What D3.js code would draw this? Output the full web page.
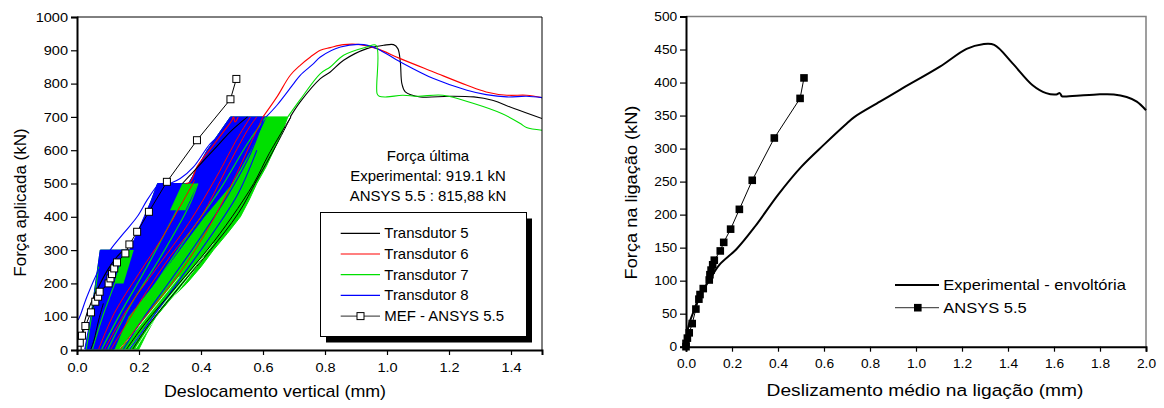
<!DOCTYPE html>
<html>
<head>
<meta charset="utf-8">
<script src="https://cdn.jsdelivr.net/npm/d3@7"></script>
<style>
  body { margin: 0; background: #fff; }
  text { font-family: "Liberation Sans", Arial, sans-serif; fill: #000; }
</style>
</head>
<body>
<script>
// ---- left chart data (mm, kN) ----
var mefPts = [[0.002,2],[0.009,22],[0.016,43],[0.027,72],[0.045,113],[0.059,145],[0.068,160],[0.073,175],
  [0.102,200],[0.108,215],[0.113,228],[0.12,245],[0.129,263],[0.156,290],[0.169,317],[0.194,355],
  [0.232,415],[0.29,505],[0.387,630],[0.495,753],[0.514,814]];

// outline of the dense cyclic loops (all transducers) and of the blue (T8) part
var loopsOutline = [[0.03,3],[0.045,100],[0.06,200],[0.075,300],[0.18,300],[0.24,450],[0.26,500],[0.36,500],
  [0.42,600],[0.495,700],[0.68,700],[0.66,650],[0.635,600],[0.61,550],[0.58,500],[0.555,450],[0.527,400],
  [0.485,350],[0.44,300],[0.4,250],[0.354,200],[0.3,150],[0.255,100],[0.225,50],[0.2,3]];
var t8Outline = [[0.025,3],[0.045,100],[0.06,200],[0.075,300],[0.17,300],[0.24,450],[0.26,500],[0.34,500],
  [0.36,500],[0.42,600],[0.495,700],[0.61,700],[0.56,600],[0.5,500],[0.41,400],[0.33,300],[0.25,200],
  [0.165,100],[0.12,3]];
var t7Block300 = [[0.15,300],[0.183,300],[0.15,200],[0.12,200]];
var t7Block500 = [[0.34,500],[0.39,500],[0.35,420],[0.30,420]];

// individual loops
var t7Loops = [
  [[0.03,3],[0.04,60],[0.055,150],[0.07,250]],
  [[0.05,3],[0.09,120],[0.15,260],[0.18,300]],
  [[0.1,3],[0.17,130],[0.27,280],[0.36,430],[0.39,500]],
  [[0.13,3],[0.22,150],[0.34,320],[0.46,480],[0.55,620],[0.61,700]],
  [[0.08,3],[0.14,110],[0.22,240],[0.3,380],[0.35,470]]
];
var t8Loops = [
  [[0.15,3],[0.21,90],[0.31,220],[0.4,340],[0.49,470],[0.56,590],[0.6,690]],
  [[0.17,3],[0.23,80],[0.33,210],[0.43,340],[0.52,470],[0.58,600]]
];
var t6Loops = [
  [[0.07,3],[0.12,110],[0.2,230],[0.27,330],[0.35,460],[0.38,510]],
  [[0.09,3],[0.16,120],[0.26,250],[0.36,380],[0.45,520],[0.52,640],[0.56,700]],
  [[0.11,3],[0.2,140],[0.3,280],[0.4,400],[0.48,540],[0.55,660],[0.58,700]],
  [[0.14,3],[0.22,100],[0.33,230],[0.42,360],[0.5,500],[0.56,620],[0.6,700]]
];
var t5Loops = [
  [[0.045,3],[0.055,30],[0.07,90],[0.085,140]],
  [[0.16,3],[0.22,80],[0.32,190],[0.42,300],[0.5,400],[0.57,500],[0.62,590],[0.69,700]],
  [[0.18,3],[0.235,80],[0.34,200],[0.43,300],[0.52,410],[0.58,510],[0.64,610],[0.69,700]]
];
// white gaps between the lower loops of transducer 7
var t7Gaps = [
  [[0.14,5],[0.19,60],[0.26,140],[0.33,220]],
  [[0.17,5],[0.215,60],[0.29,150],[0.37,240],[0.44,320]],
  [[0.19,5],[0.235,70],[0.32,170],[0.41,280]]
];
var t8Thin = [
  [[0.004,90],[0.011,105],[0.032,160],[0.075,250],[0.107,300],[0.15,350],[0.194,400],[0.226,450],[0.263,500]],
  [[0.3,500],[0.333,515],[0.376,550],[0.43,620],[0.473,655],[0.5,700]]
];
var t6Thin = [[0.35,500],[0.366,505],[0.387,550],[0.44,615],[0.468,650],[0.5,690],[0.505,700],[0.51,685],[0.52,700]];
var t5Thin = [
  [[0.016,50],[0.032,110],[0.054,160],[0.075,200],[0.102,245],[0.129,280],[0.15,300]],
  [[0.34,500],[0.37,530],[0.44,600],[0.5,660],[0.55,700]]
];

// monotonic part up to failure
var t5Final = [[0.688,700],[0.72,745],[0.785,815],[0.817,835],[0.86,870],[0.935,905],[0.989,915],[1.021,917],
  [1.035,905],[1.043,865],[1.048,800],[1.059,775],[1.107,760],[1.2,762],[1.28,760],[1.34,750],[1.41,725],[1.5,695]];
var t6Final = [[0.6,700],[0.645,760],[0.688,825],[0.72,855],[0.753,880],[0.785,900],[0.817,908],[0.86,917],
  [0.914,917],[0.968,905],[1.043,875],[1.15,835],[1.258,795],[1.32,775],[1.387,765],[1.45,765],[1.5,758]];
var t7Final = [[0.68,700],[0.72,752],[0.785,830],[0.817,850],[0.86,885],[0.935,910],[0.965,915],[0.968,770],
  [0.975,762],[1.0,760],[1.05,765],[1.1,762],[1.18,765],[1.28,740],[1.37,710],[1.43,680],[1.45,668],[1.5,660]];
var t8Final = [[0.61,700],[0.645,735],[0.699,800],[0.72,825],[0.763,860],[0.785,880],[0.85,910],[0.925,917],
  [0.968,905],[1.043,865],[1.15,815],[1.258,780],[1.32,767],[1.387,760],[1.45,762],[1.5,758]];

var leftLegend = ["Transdutor 5", "Transdutor 6", "Transdutor 7", "Transdutor 8", "MEF - ANSYS 5.5"];
var leftColors = ["#000000", "#ff0000", "#00e000", "#0000ff", "#555555"];
var leftNote = ["Força última", "Experimental: 919.1 kN", "ANSYS 5.5 : 815,88 kN"];

// ---- right chart data ----
var envPts = [[0,0],[0.01,30],[0.036,56],[0.06,78],[0.097,98],[0.145,124],[0.22,148],[0.3,182],[0.4,230],
  [0.5,272],[0.6,306],[0.699,338],[0.733,348],[0.843,371],[0.93,389],[1.104,424],[1.22,451],
  [1.29,458],[1.34,457],[1.42,429],[1.507,396],[1.566,384],[1.61,382],[1.625,384],[1.635,379],[1.648,379],
  [1.786,382],[1.86,382],[1.916,378],[1.96,371],[2.0,358]];
var ansysPts = [[0,0],[0,5],[0.006,13],[0.014,21],[0.027,35],[0.043,57],[0.056,72],[0.061,79],[0.075,88],
  [0.101,101],[0.104,109],[0.109,116],[0.116,124],[0.123,131],[0.149,145],[0.164,158],[0.194,178],
  [0.232,208],[0.288,252],[0.384,316],[0.496,376],[0.513,407]];
var rightLegend = ["Experimental - envoltória", "ANSYS 5.5"];

var svg = d3.select("body").append("svg").attr("width", 1164).attr("height", 408);

function label(g, x, y, str, size, anchor, sx, rot) {
  var t = "translate(" + x + "," + y + ")" + (rot ? " rotate(" + rot + ")" : "") + " scale(" + sx + ",1)";
  return g.append("text").attr("transform", t).attr("font-size", size)
    .attr("text-anchor", anchor).text(str);
}

function axes(x, y, xMaj, xMin, yMaj, yMin, fs, sx, fmtX, fmtY) {
  var gx = svg.append("g").attr("transform", "translate(0," + y.range()[0] + ")");
  gx.call(d3.axisBottom(x).tickValues(xMin).tickSize(3).tickFormat(""));
  gx.call(d3.axisBottom(x).tickValues(xMaj).tickSize(5).tickPadding(7.5).tickFormat(fmtX));
  var gy = svg.append("g").attr("transform", "translate(" + x.range()[0] + ",0)");
  gy.call(d3.axisLeft(y).tickValues(yMin).tickSize(3).tickFormat(""));
  gy.call(d3.axisLeft(y).tickValues(yMaj).tickSize(6).tickPadding(2).tickFormat(fmtY));
  [gx, gy].forEach(function (g) {
    g.selectAll(".domain").attr("stroke", "#000").attr("stroke-width", 2);
    g.selectAll(".tick line").attr("stroke", "#000").attr("stroke-width", 1.2);
    g.selectAll("text").attr("font-size", fs).attr("fill", "#000")
      .attr("font-family", "'Liberation Sans', Arial, sans-serif")
      .attr("transform", "scale(" + sx + ",1)");
  });
}

function range(a, b, s) { var r = []; for (var v = a; v <= b + 1e-9; v += s) r.push(+v.toFixed(4)); return r; }

// ================= LEFT =================
var xL = d3.scaleLinear().domain([0, 1.5]).range([77, 542]);
var yL = d3.scaleLinear().domain([0, 1000]).range([350, 17]);

svg.append("defs").append("clipPath").attr("id", "clipL").append("rect")
  .attr("x", 77).attr("y", 17).attr("width", 465).attr("height", 333);

var gL = svg.append("g").attr("clip-path", "url(#clipL)");
var lineL = d3.line().x(function (d) { return xL(d[0]); }).y(function (d) { return yL(d[1]); })
  .curve(d3.curveCatmullRom.alpha(0.5));
var polyL = d3.line().x(function (d) { return xL(d[0]); }).y(function (d) { return yL(d[1]); })
  .curve(d3.curveLinearClosed);

gL.append("path").attr("d", polyL(loopsOutline)).attr("fill", leftColors[2]).attr("stroke", leftColors[2]);
gL.append("path").attr("d", polyL(t8Outline)).attr("fill", leftColors[3]).attr("stroke", leftColors[3]);
[t7Block300, t7Block500].forEach(function (p) {
  gL.append("path").attr("d", polyL(p)).attr("fill", leftColors[2]);
});
function drawSet(set, col, w) {
  set.forEach(function (s) {
    gL.append("path").attr("d", lineL(s)).attr("fill", "none").attr("stroke", col).attr("stroke-width", w);
  });
}
drawSet(t7Gaps, "#fff", 0.8);
drawSet(t7Loops, leftColors[2], 1.1);
drawSet(t8Loops, leftColors[3], 1.1);
drawSet(t6Loops, leftColors[1], 1.0);
drawSet(t5Loops, leftColors[0], 1.0);
drawSet(t8Thin, leftColors[3], 1.1);
drawSet([t6Thin], leftColors[1], 1.1);
drawSet(t5Thin, leftColors[0], 1.1);
drawSet([t5Final], leftColors[0], 1.1);
drawSet([t6Final], leftColors[1], 1.1);
drawSet([t8Final], leftColors[3], 1.1);
drawSet([t7Final], leftColors[2], 1.1);

gL.append("path").attr("d", d3.line().x(function (d) { return xL(d[0]); }).y(function (d) { return yL(d[1]); })(mefPts))
  .attr("fill", "none").attr("stroke", "#000").attr("stroke-width", 1);
gL.selectAll("rect.mef").data(mefPts).enter().append("rect").attr("class", "mef")
  .attr("x", function (d) { return xL(d[0]) - 3.5; }).attr("y", function (d) { return yL(d[1]) - 3.5; })
  .attr("width", 7).attr("height", 7).attr("fill", "#fff").attr("stroke", "#000").attr("stroke-width", 1);

// frame
svg.append("path").attr("d", "M77,17H542V350").attr("fill", "none").attr("stroke", "#000").attr("stroke-width", 1);
axes(xL, yL, range(0, 1.4, 0.2), range(0, 1.5, 0.05), range(0, 1000, 100), range(0, 1000, 20), 13, 1.12,
  d3.format(".1f"), d3.format("d"));

label(svg, 20, 202.5, "Força aplicada (kN)", 17, "middle", 1.0, -90).attr("dy", "0.35em");
label(svg, 275, 397, "Deslocamento vertical (mm)", 17, "middle", 1.05);

leftNote.forEach(function (s, i) { label(svg, 428, 161 + i * 20, s, 14, "middle", 1.07); });

// legend with shadow
var lg = svg.append("g");
lg.append("rect").attr("x", 326).attr("y", 218.5).attr("width", 206).attr("height", 124).attr("fill", "#000");
lg.append("rect").attr("x", 320.5).attr("y", 212.5).attr("width", 206).attr("height", 124)
  .attr("fill", "#fff").attr("stroke", "#000").attr("stroke-width", 1);
leftLegend.forEach(function (s, i) {
  var yy = 233.3 + i * 20.7;
  lg.append("line").attr("x1", 340.7).attr("x2", 380).attr("y1", yy).attr("y2", yy)
    .attr("stroke", leftColors[i]).attr("stroke-width", 1.2);
  if (i === 4) {
    lg.append("rect").attr("x", 357).attr("y", yy - 3.5).attr("width", 7).attr("height", 7)
      .attr("fill", "#fff").attr("stroke", "#000");
  }
  label(lg, 384.3, yy + 5, s, 14, "start", 1.07);
});

// ================= RIGHT =================
var xR = d3.scaleLinear().domain([0, 2]).range([686, 1146]);
var yR = d3.scaleLinear().domain([0, 500]).range([346.7, 16.5]);
var lineR = d3.line().x(function (d) { return xR(d[0]); }).y(function (d) { return yR(d[1]); });

svg.append("path").attr("d", "M686,16.5H1146V346.7").attr("fill", "none").attr("stroke", "#808080").attr("stroke-width", 1.5);

svg.append("path").attr("d", lineR.curve(d3.curveCatmullRom.alpha(0.5))(envPts))
  .attr("fill", "none").attr("stroke", "#000").attr("stroke-width", 2);
svg.append("path").attr("d", d3.line().x(function (d) { return xR(d[0]); }).y(function (d) { return yR(d[1]); })(ansysPts))
  .attr("fill", "none").attr("stroke", "#000").attr("stroke-width", 1);
svg.selectAll("rect.ans").data(ansysPts).enter().append("rect").attr("class", "ans")
  .attr("x", function (d) { return xR(d[0]) - 3.8; }).attr("y", function (d) { return yR(d[1]) - 3.8; })
  .attr("width", 7.6).attr("height", 7.6).attr("fill", "#000");

axes(xR, yR, range(0, 2, 0.2), range(0, 2, 0.05), range(0, 500, 50), range(0, 500, 10), 12.5, 1.1,
  d3.format(".1f"), d3.format("d"));

label(svg, 631, 192.5, "Força na ligação (kN)", 17, "middle", 1.07, -90).attr("dy", "0.35em");
label(svg, 925, 396, "Deslizamento médio na ligação (mm)", 17, "middle", 1.13);

var rg = svg.append("g");
rightLegend.forEach(function (s, i) {
  var yy = 285 + i * 22.7;
  rg.append("line").attr("x1", 895).attr("x2", 939).attr("y1", yy).attr("y2", yy)
    .attr("stroke", i === 0 ? "#000" : "#555").attr("stroke-width", i === 0 ? 2 : 1.2);
  if (i === 1) {
    rg.append("rect").attr("x", 914).attr("y", yy - 3.8).attr("width", 7.6).attr("height", 7.6).attr("fill", "#000");
  }
  label(rg, 943.3, yy + 5, s, 14, "start", 1.18);
});
</script>
</body>
</html>
